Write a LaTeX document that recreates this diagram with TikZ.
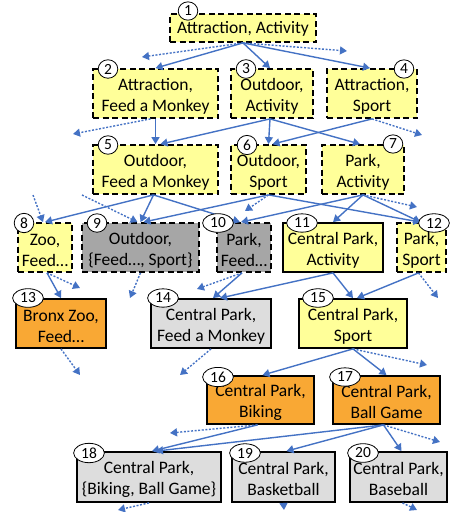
\documentclass[tikz,border=0pt]{standalone}
\usepackage{fontspec}
\setmainfont{Carlito}
\usetikzlibrary{arrows.meta,shapes.geometric}
\definecolor{cyel}{HTML}{FFFF99}
\definecolor{cgray}{HTML}{A6A6A6}
\definecolor{clgray}{HTML}{DDDDDD}
\definecolor{corange}{HTML}{F9A834}
\definecolor{eblue}{HTML}{4472C4}
\newcommand\tp{\rule{0pt}{17pt}}
\begin{document}
\begin{tikzpicture}[x=1pt,y=-1pt,
  box/.style={draw=black,line width=1.8pt,inner sep=0pt,align=center,
    font=\fontsize{17.5}{21}\selectfont,minimum height=49pt},
  dbox/.style={box,dash pattern=on 6pt off 3.5pt},
  num/.style={ellipse,draw=black,line width=0.8pt,fill=white,inner xsep=3pt,
    inner ysep=1.5pt,font=\fontsize{15.5}{15.5}\selectfont},
  edge/.style={draw=eblue,line width=1.4pt,-{Triangle[length=7pt,width=8pt]}},
  dedge/.style={edge,dash pattern=on 2pt off 1.6pt},
]
\useasboundingbox (0,0) rectangle (451,512);
% boxes
\node[dbox,fill=cyel,minimum width=146pt,minimum height=28pt] (n1) at (243,28) {\rule{0pt}{14pt}Attraction, Activity};
\node[dbox,fill=cyel,minimum width=125pt] (n2) at (155.5,93.5) {\tp Attraction,\\Feed a Monkey};
\node[dbox,fill=cyel,minimum width=82pt] (n3) at (272,93.5) {\tp Outdoor,\\Activity};
\node[dbox,fill=cyel,minimum width=90pt] (n4) at (372,93.5) {\tp Attraction,\\Sport};
\node[dbox,fill=cyel,minimum width=125pt] (n5) at (155.5,169.5) {\tp Outdoor,\\Feed a Monkey};
\node[dbox,fill=cyel,minimum width=75pt] (n6) at (268.5,169.5) {\tp Outdoor,\\Sport};
\node[dbox,fill=cyel,minimum width=82pt] (n7) at (363,169.5) {\tp Park,\\Activity};
\node[dbox,fill=cyel,minimum width=54pt] (n8) at (45,247.5) {\tp Zoo,\\Feed…};
\node[dbox,fill=cgray,minimum width=117pt] (n9) at (140.5,247.5) {\tp Outdoor,\\\{Feed…, Sport\}};
\node[dbox,fill=cgray,minimum width=54pt] (n10) at (244,247.5) {\tp Park,\\Feed…};
\node[box,fill=cyel,minimum width=100pt] (n11) at (333,247.5) {\tp Central Park,\\Activity};
\node[dbox,fill=cyel,minimum width=49pt] (n12) at (421.5,247.5) {\tp Park,\\Sport};
\node[box,fill=corange,minimum width=90pt] (n13) at (61,323.5) {\tp Bronx Zoo,\\Feed…};
\node[box,fill=clgray,minimum width=120pt] (n14) at (211,323.5) {\tp Central Park,\\Feed a Monkey};
\node[box,fill=cyel,minimum width=108pt] (n15) at (353,323.5) {\tp Central Park,\\Sport};
\node[box,fill=corange,minimum width=107pt,minimum height=48pt] (n16) at (260.5,400) {\tp Central Park,\\Biking};
\node[box,fill=corange,minimum width=107pt,minimum height=48pt] (n17) at (386.5,400) {\tp Central Park,\\Ball Game};
\node[box,fill=clgray,minimum width=144pt,minimum height=50pt] (n18) at (149,477) {\tp Central Park,\\\{Biking, Ball Game\}};
\node[box,fill=clgray,minimum width=103pt,minimum height=50pt] (n19) at (283.5,477) {\tp Central Park,\\Basketball};
\node[box,fill=clgray,minimum width=97pt,minimum height=50pt] (n20) at (398.5,477) {\tp Central Park,\\Baseball};
% free ends
\coordinate (d1a) at (142,57);
\coordinate (d1b) at (347,51);
\coordinate (d2) at (73,134);
\coordinate (d4) at (422,135);
\coordinate (i8) at (33,195);
\coordinate (i9) at (82,195);
\coordinate (d6) at (245,211);
\coordinate (d7) at (417,207);
\coordinate (d8) at (80,288);
\coordinate (d9) at (130,298);
\coordinate (d10) at (197,289);
\coordinate (d12) at (438,298);
\coordinate (d13) at (80,375);
\coordinate (d14) at (180,375);
\coordinate (d15) at (427,365);
\coordinate (d16) at (170,433);
\coordinate (d17) at (440,442);
\coordinate (d18) at (118,510);
\coordinate (d19) at (284,510);
\coordinate (d20) at (417,510);
% edges
\draw[edge] (n1.south) -- (n2.north);
\draw[edge] (n1.south) -- ([xshift=-2pt]n3.north);
\draw[edge] (n1.south) -- ([xshift=-2pt]n4.north);
\draw[dedge] (n1.south) -- (d1a);
\draw[dedge] (n1.south) -- (d1b);
\draw[edge] (n2.south) -- (n5.north);
\draw[dedge] ([xshift=-5pt]n2.south) -- (d2);
\draw[edge] ([xshift=-2pt]n3.south) -- ([xshift=5pt]n5.north);
\draw[edge] ([xshift=-2pt]n3.south) -- (n6.north);
\draw[edge] ([xshift=-2pt]n3.south) -- ([xshift=-3pt]n7.north);
\draw[edge] (n4.south) -- ([xshift=4pt]n6.north);
\draw[dedge] (n4.south) -- (d4);
\draw[edge] ([xshift=-2pt]n5.south) -- (n8.north);
\draw[edge] ([xshift=-2pt]n5.south) -- (n9.north);
\draw[edge] ([xshift=-2pt]n5.south) -- ([xshift=-4pt]n10.north);
\draw[dedge] (i8) -- ([xshift=-2pt]n8.north);
\draw[dedge] (i9) -- ([xshift=-3pt]n9.north);
\draw[edge] (n6.south) -- ([xshift=3pt]n9.north);
\draw[edge] (n6.south) -- ([xshift=-1pt]n12.north);
\draw[dedge] (n6.south) -- (d6);
\draw[edge] (n7.south) -- ([xshift=-3pt]n10.north);
\draw[edge] (n7.south) -- (n11.north);
\draw[edge] (n7.south) -- ([xshift=-1pt]n12.north);
\draw[dedge] (n7.south) -- (d7);
\draw[edge] ([xshift=2pt]n8.south) -- (n13.north);
\draw[dedge] ([xshift=2pt]n8.south) -- (d8);
\draw[dedge] (n9.south) -- (d9);
\draw[edge] ([xshift=-2pt]n10.south) -- ([xshift=2pt]n14.north);
\draw[dedge] ([xshift=-2pt]n10.south) -- (d10);
\draw[edge] (n11.south) -- ([xshift=9pt]n14.north);
\draw[edge] (n11.south) -- (n15.north);
\draw[edge] ([xshift=-3pt]n12.south) -- ([xshift=4pt]n15.north);
\draw[dedge] ([xshift=-3pt]n12.south) -- (d12);
\draw[dedge] (n13.south) -- (d13);
\draw[dedge] (n14.south) -- (d14);
\draw[edge] (n15.south) -- ([xshift=2pt]n16.north);
\draw[edge] (n15.south) -- (n17.north);
\draw[dedge] (n15.south) -- (d15);
\draw[edge] ([xshift=-3pt]n16.south) -- ([xshift=3pt]n18.north);
\draw[dedge] ([xshift=-3pt]n16.south) -- (d16);
\draw[edge] ([xshift=-3pt]n17.south) -- ([xshift=7pt]n18.north);
\draw[edge] ([xshift=-3pt]n17.south) -- ([xshift=3pt]n19.north);
\draw[edge] ([xshift=-3pt]n17.south) -- ([xshift=3pt]n20.north);
\draw[dedge] ([xshift=-3pt]n17.south) -- (d17);
\draw[dedge] (n18.south) -- (d18);
\draw[dedge] (n19.south) -- (d19);
\draw[dedge] ([xshift=4pt]n20.south) -- (d20);
% number labels
\node[num] (c1) at (188,11) {1};
\node[num] (c2) at (108,69) {2};
\node[num] (c3) at (246,69) {3};
\node[num] (c4) at (404,69) {4};
\node[num] (c5) at (108,145) {5};
\node[num] (c6) at (247,145) {6};
\node[num] (c7) at (393,144) {7};
\node[num] (c8) at (24,223) {8};
\node[num] (c9) at (97,223) {9};
\node[num] (c10) at (218,223) {10};
\node[num] (c11) at (302,223) {11};
\node[num] (c12) at (434,223) {12};
\node[num] (c13) at (28,298) {13};
\node[num] (c14) at (163,298) {14};
\node[num] (c15) at (318,298) {15};
\node[num] (c16) at (218,377) {16};
\node[num] (c17) at (345,377) {17};
\node[num] (c18) at (89,453) {18};
\node[num] (c19) at (245,453) {19};
\node[num] (c20) at (363,453) {20};
\end{tikzpicture}
\end{document}
